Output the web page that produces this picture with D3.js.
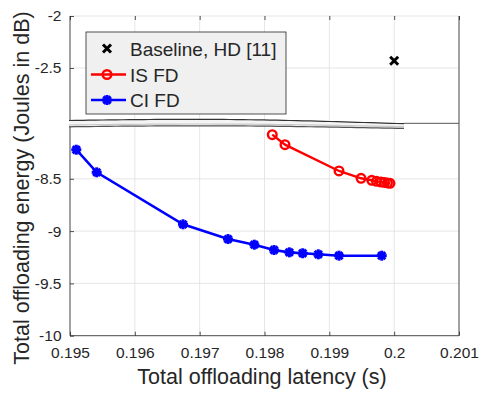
<!DOCTYPE html>
<meta charset="utf-8">
<style>
	body { margin: 0; background: #fff; }
	svg text { font-family: "Liberation Sans", Arial, sans-serif; fill: #262626; }
</style>
<svg width="479" height="401"></svg>
<script src="https://d3js.org/d3.v7.min.js"></script>
<script type="text/javascript">
	// data
	var baselineHD = [[0.2, -2.43]];
	var isFD = [[0.19812, -8.078], [0.198316, -8.174], [0.199149, -8.425], [0.199489, -8.495], [0.199654, -8.514],
		[0.199728, -8.524], [0.199797, -8.531], [0.199851, -8.535], [0.199897, -8.540], [0.199936, -8.543]];
	var ciFD = [[0.195097, -8.222], [0.195412, -8.438], [0.196743, -8.935], [0.197437, -9.076], [0.197843, -9.130],
		[0.198147, -9.181], [0.198383, -9.203], [0.198589, -9.212], [0.19883, -9.222], [0.199149, -9.235], [0.199808, -9.235]];
	var xTicks = [0.195, 0.196, 0.197, 0.198, 0.199, 0.2, 0.201];
	var yTicks = [-2, -2.5, -8.5, -9, -9.5, -10];
	var legendNames = ["Baseline, HD [11]", "IS FD", "CI FD"];

	var svg = d3.select("svg"),
		pLeft = 70, pRight = 459, pTop = 16, pBottom = 335.7;

	var x = d3.scaleLinear().domain([0.195, 0.201]).range([pLeft, pRight]);
	// broken axis: -8..-3 squeezed into a few pixels
	var y = d3.scaleLinear().domain([-10, -8, -3, -2]).range([pBottom, 126.5, 120, pTop]);

	var line = d3.line().x(function(d){return x(d[0])}).y(function(d){return y(d[1])});

	// grid
	svg.append("g").selectAll("line").data(xTicks).enter().append("line")
		.attr("x1", x).attr("x2", x).attr("y1", pTop).attr("y2", pBottom)
		.attr("stroke", "#dfdfdf").attr("stroke-width", 0.8);
	svg.append("g").selectAll("line").data(yTicks).enter().append("line")
		.attr("x1", pLeft).attr("x2", pRight).attr("y1", y).attr("y2", y)
		.attr("stroke", "#dfdfdf").attr("stroke-width", 0.8);

	// axes
	var fmt = function(d){return String(+d.toFixed(3))};
	var xAxis = svg.append("g").attr("transform", "translate(0," + pBottom + ")")
		.call(d3.axisBottom(x).tickValues(xTicks).tickFormat(fmt).tickSize(-4).tickPadding(11));
	var xTop = svg.append("g").attr("transform", "translate(0," + pTop + ")")
		.call(d3.axisTop(x).tickValues(xTicks).tickFormat("").tickSize(-4));
	xTop.select(".domain").remove();
	var yAxis = svg.append("g").attr("transform", "translate(" + pLeft + ",0)")
		.call(d3.axisLeft(y).tickValues(yTicks).tickFormat(fmt).tickSize(-4).tickPadding(8.5));
	[xAxis, yAxis, xTop].forEach(function(a){
		a.selectAll(".tick line").attr("stroke", "#262626").attr("stroke-width", 0.8);
		a.selectAll(".domain").attr("stroke", "#262626").attr("stroke-width", 0.8);
		a.selectAll("text").style("font-size", "15.5px").attr("fill", "#262626");
	});
	xAxis.select(".domain").attr("d", "M" + pLeft + ",0H" + pRight);
	yAxis.select(".domain").attr("d", "M0," + pBottom + "V" + pTop);
	svg.append("line").attr("x1", pRight).attr("x2", pRight).attr("y1", pTop).attr("y2", pBottom)
		.attr("stroke", "#262626").attr("stroke-width", 0.8);

	// axis break mark
	var bx0 = 69, bx1 = 404, brk = d3.range(0, 1.0001, 0.02);
	var topEdge = brk.map(function(t){return [bx0 + t*(bx1-bx0), 120.5 - 2.2*Math.sin(t*Math.PI*1.1) + 2.5*t]});
	var botEdge = brk.map(function(t){return [bx0 + t*(bx1-bx0), 126.8 - 1.5*Math.sin(t*Math.PI*1.1) + 1.2*t]});
	var band = d3.line();
	svg.append("path").attr("d", band(topEdge.concat(botEdge.slice().reverse())) + "Z")
		.attr("fill", "#f4f4f4").attr("stroke", "none");
	svg.append("path").attr("d", band(botEdge.map(function(p){return [p[0], p[1] - 1.8]})))
		.attr("fill", "none").attr("stroke", "#c8c8c8").attr("stroke-width", 1.2);
	svg.append("path").attr("d", band(topEdge)).attr("fill", "none").attr("stroke", "#333").attr("stroke-width", 1.2);
	svg.append("path").attr("d", band(botEdge)).attr("fill", "none").attr("stroke", "#555").attr("stroke-width", 1.2);
	svg.append("line").attr("x1", bx1).attr("x2", pRight).attr("y1", 123.3).attr("y2", 123.3)
		.attr("stroke", "#555").attr("stroke-width", 1);

	// markers
	function star(g, cx, cy, col) {
		var s = 5;
		[[s, 0], [0, s], [s*0.72, s*0.72], [s*0.72, -s*0.72]].forEach(function(v){
			g.append("line").attr("x1", cx - v[0]).attr("y1", cy - v[1]).attr("x2", cx + v[0]).attr("y2", cy + v[1])
				.attr("stroke", col).attr("stroke-width", 3);
		});
		g.append("circle").attr("cx", cx).attr("cy", cy).attr("r", 3.6).attr("fill", col);
	}
	function cross(g, cx, cy) {
		var s = 4;
		g.append("path").attr("d", "M" + (cx-s) + "," + (cy-s) + "L" + (cx+s) + "," + (cy+s) + "M" + (cx-s) + "," + (cy+s) + "L" + (cx+s) + "," + (cy-s))
			.attr("stroke", "#000").attr("stroke-width", 3);
	}
	function ring(g, cx, cy) {
		g.append("circle").attr("cx", cx).attr("cy", cy).attr("r", 4.3)
			.attr("fill", "none").attr("stroke", "#ff0000").attr("stroke-width", 2.4);
	}

	// CI FD
	svg.append("path").datum(ciFD).attr("d", line).attr("fill", "none").attr("stroke", "#0000ff").attr("stroke-width", 2.6);
	var gc = svg.append("g");
	ciFD.forEach(function(d){ star(gc, x(d[0]), y(d[1]), "#0000ff") });

	// IS FD
	svg.append("path").datum(isFD).attr("d", line).attr("fill", "none").attr("stroke", "#ff0000").attr("stroke-width", 2.4);
	var gi = svg.append("g");
	isFD.forEach(function(d){ ring(gi, x(d[0]), y(d[1])) });

	// baseline
	var gb = svg.append("g");
	baselineHD.forEach(function(d){ cross(gb, x(d[0]), y(d[1])) });

	// legend
	var lg = svg.append("g");
	lg.append("rect").attr("x", 86).attr("y", 32).attr("width", 200).attr("height", 82)
		.attr("fill", "#f0f0f0").attr("stroke", "#262626").attr("stroke-width", 0.8);
	var rows = [48.5, 74.5, 100];
	lg.selectAll("text").data(legendNames).enter().append("text")
		.attr("x", 130).attr("y", function(d, i){return rows[i] + 7})
		.style("font-size", "19px").attr("fill", "#000").text(function(d){return d});
	cross(lg, 107, rows[0]);
	lg.append("line").attr("x1", 91).attr("x2", 126).attr("y1", rows[1]).attr("y2", rows[1]).attr("stroke", "#ff0000").attr("stroke-width", 2.4);
	ring(lg, 107, rows[1]);
	lg.append("line").attr("x1", 91).attr("x2", 126).attr("y1", rows[2]).attr("y2", rows[2]).attr("stroke", "#0000ff").attr("stroke-width", 2.6);
	star(lg, 107, rows[2], "#0000ff");

	// axis titles
	svg.append("text").attr("x", 262).attr("y", 384).attr("text-anchor", "middle")
		.style("font-size", "21.5px").text("Total offloading latency (s)");
	svg.append("text").attr("transform", "translate(29," + 188 + ") rotate(-90)").attr("text-anchor", "middle")
		.style("font-size", "21.5px").text("Total offloading energy (Joules in dB)");
</script>
